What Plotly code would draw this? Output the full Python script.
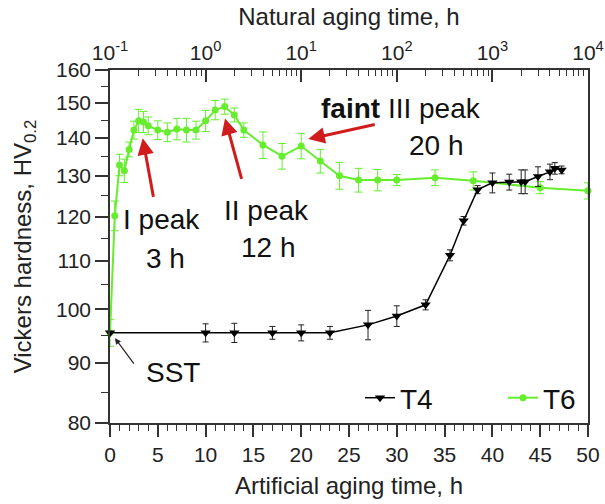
import numpy as np
import plotly.graph_objects as go

# ---- T6: artificial aging (bottom, linear axis) ----
t6_time = [0, 0.5, 1, 1.5, 2, 2.5, 3, 3.5, 4, 5, 6, 7, 8, 9, 10, 11, 12, 13, 14,
           16, 18, 20, 22, 24, 26, 28, 30, 34, 38, 45, 50]
t6_hv = [95.5, 120.2, 132.8, 131.3, 136.9, 142.2, 144.8, 144.5, 143.4, 142.2, 141.6,
         142.5, 142.2, 142.2, 144.8, 147.9, 148.9, 146.5, 142.2, 138.1, 135.1, 137.8,
         133.8, 130.0, 128.9, 128.9, 128.9, 129.5, 128.7, 127.0, 126.2]
t6_err = [2.5, 3.5, 2.8, 3.0, 2.0, 2.5, 3.3, 3.0, 2.5, 2.6, 2.6, 3.0, 3.3, 2.5, 3.0,
          2.8, 2.2, 2.0, 2.0, 3.6, 3.4, 3.4, 3.1, 3.4, 3.0, 2.7, 1.4, 2.0, 2.3, 1.5, 2.0]

# ---- T4: natural aging (top, log axis) ----
t4_time = [0.1, 1, 2, 5, 10, 20, 50, 100, 200, 360, 500, 700, 1000, 1500, 2000, 2200,
           3000, 4000, 4500, 5300]
t4_hv = [95.5, 95.5, 95.5, 95.5, 95.5, 95.5, 97.0, 98.7, 100.9, 111.2, 119.0, 126.5,
         128.2, 128.4, 128.5, 128.5, 129.8, 131.0, 131.9, 131.5]
t4_err = [0, 1.7, 1.8, 1.2, 1.5, 1.2, 2.8, 2.0, 1.0, 1.2, 1.0, 1.0, 2.5, 2.0, 3.0, 3.0,
          2.5, 2.0, 1.5, 1.0]

# ---- axis ticks ----
hv_ticks = [80, 90, 100, 110, 120, 130, 140, 150, 160]
hv_minor = [85, 95, 105, 115, 125, 135, 145, 155]
art_ticks = [0, 5, 10, 15, 20, 25, 30, 35, 40, 45, 50]
nat_ticks = [0.1, 1, 10, 100, 1000, 10000]
nat_labels = ["10<sup>-1</sup>", "10<sup>0</sup>", "10<sup>1</sup>", "10<sup>2</sup>",
              "10<sup>3</sup>", "10<sup>4</sup>"]
nat_minor = [m * 10.0 ** e for e in range(-1, 4) for m in range(2, 10)]

GREEN = "#66ee2e"
RED = "#d01c1c"
FONT = "Arial, Liberation Sans, sans-serif"
AX = "#333333"

fig = go.Figure()

fig.add_trace(go.Scatter(
    x=t4_time, y=t4_hv, xaxis="x2", yaxis="y", name="T4",
    mode="lines+markers",
    line=dict(color="black", width=1.5),
    marker=dict(symbol="triangle-down", size=9, color="black"),
    error_y=dict(type="data", array=t4_err, color="#222222", thickness=1, width=3),
    cliponaxis=False,
))

fig.add_trace(go.Scatter(
    x=t6_time, y=t6_hv, xaxis="x", yaxis="y", name="T6",
    mode="lines+markers",
    line=dict(color=GREEN, width=2),
    marker=dict(symbol="circle", size=7, color=GREEN),
    error_y=dict(type="data", array=t6_err, color=GREEN, thickness=1, width=4),
    cliponaxis=False,
))

# Pixel geometry of the plotting area
W, H = 605, 504
L, R, T, B = 110, 17, 70, 81
pw, ph = W - L - R, H - T - B


def px(xp):
    return (xp - L) / pw


def py(yp):
    return (H - B - yp) / ph


annotations = []
text_font = dict(family=FONT, size=28, color="#111111")

# Peak labels
for txt, xp, yp in [("I peak", 161, 220), ("3 h", 165, 258),
                    ("II peak", 266, 210), ("12 h", 268, 247),
                    ("<b>faint</b> III peak", 401, 108), ("20 h", 436, 145),
                    ("SST", 173, 372)]:
    annotations.append(dict(x=px(xp), y=py(yp), xref="paper", yref="paper",
                            text=txt, showarrow=False, font=text_font,
                            xanchor="center", yanchor="middle"))

# Arrows pointing at the peaks (tip in data units, tail as pixel offset)
for tx, tv, ax, ay in [(3.42, 139.9, 11, 60), (12.03, 145.5, 17, 62), (20.74, 139.7, 68, -15)]:
    annotations.append(dict(x=tx, y=np.log10(tv), xref="x", yref="y", ax=ax, ay=ay,
                            showarrow=True, arrowhead=2, arrowsize=1.1, arrowwidth=3,
                            arrowcolor=RED, text=""))

annotations.append(dict(x=0.52, y=np.log10(94.5), xref="x", yref="y", ax=20, ay=27,
                        showarrow=True, arrowhead=2, arrowsize=1, arrowwidth=1.2,
                        arrowcolor="#222222", text=""))

tick_font = dict(family=FONT, size=21, color="#222222")
title_font = dict(family=FONT, size=24, color="#222222")

fig.update_layout(
    width=W, height=H,
    margin=dict(l=L, r=R, t=T, b=B, autoexpand=False),
    paper_bgcolor="white", plot_bgcolor="white",
    font=dict(family=FONT, color="#222222"),
    annotations=annotations,
    legend=dict(orientation="h", x=px(360), xanchor="left", y=py(398), yanchor="middle",
                font=dict(family=FONT, size=28, color="#111111"),
                bgcolor="rgba(0,0,0,0)", entrywidth=98, itemwidth=30),
    xaxis=dict(
        range=[0, 50], tickvals=art_ticks, ticks="outside", ticklen=12, tickwidth=1.5,
        tickcolor=AX, showline=True, linecolor=AX, linewidth=1.5, showgrid=False,
        zeroline=False, tickfont=tick_font, automargin=False,
        minor=dict(dtick=1, ticks="outside", ticklen=6, tickwidth=1.2, tickcolor=AX,
                   showgrid=False),
        title=dict(text="Artificial aging time, h", font=title_font, standoff=12),
    ),
    xaxis2=dict(
        type="log", range=[-1, 4], overlaying="x", side="top", anchor="y",
        tickvals=nat_ticks, ticktext=nat_labels, ticks="inside", ticklen=12,
        tickwidth=1.5, tickcolor=AX, showline=True, linecolor=AX, linewidth=1.5,
        showgrid=False, zeroline=False, tickfont=tick_font, automargin=False,
        minor=dict(tickvals=nat_minor, ticks="inside", ticklen=6, tickwidth=1.2,
                   tickcolor=AX, showgrid=False),
        title=dict(text="Natural aging time, h", font=title_font, standoff=6),
    ),
    yaxis=dict(
        type="log", range=[np.log10(80), np.log10(160)], tickvals=hv_ticks,
        ticks="outside", ticklen=13, tickwidth=1.5, tickcolor=AX, showline=True,
        linecolor=AX, linewidth=1.5, mirror=True, showgrid=False, zeroline=False,
        tickfont=tick_font, automargin=False,
        minor=dict(tickvals=hv_minor, ticks="outside", ticklen=7, tickwidth=1.2,
                   tickcolor=AX, showgrid=False),
        title=dict(text="Vickers hardness, HV<sub>0.2</sub>", font=title_font, standoff=18),
    ),
)

fig.write_html("out.html")
